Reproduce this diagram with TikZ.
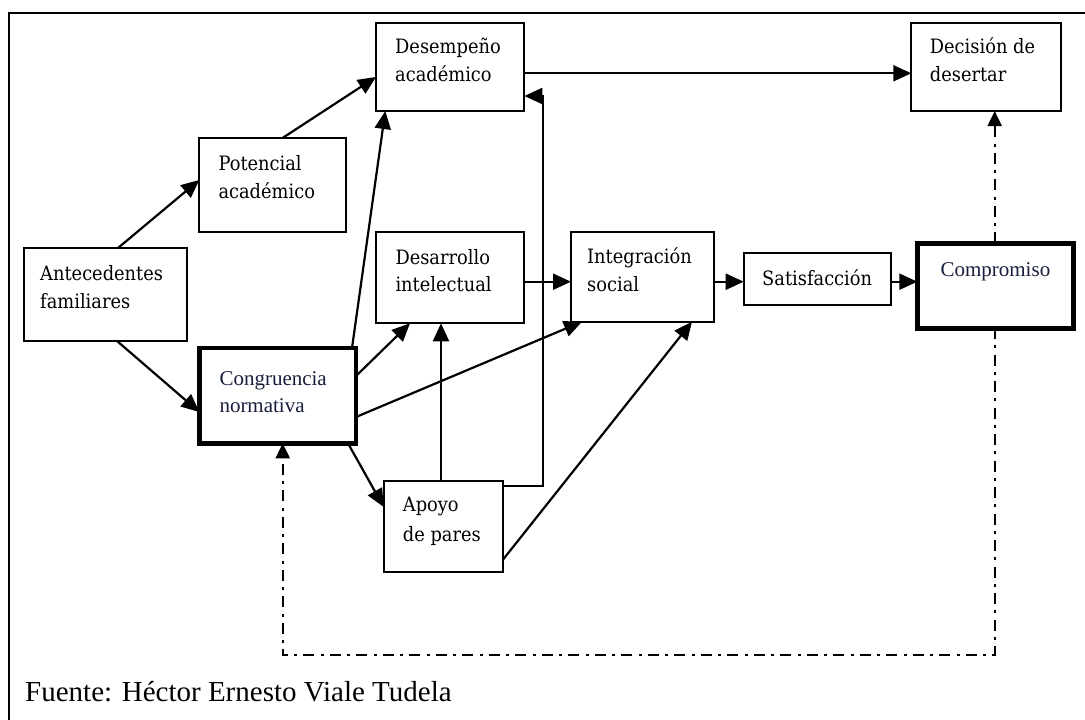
\documentclass[tikz,border=0pt]{standalone}
\usepackage{fontspec}
\setmainfont{Liberation Serif}
\newfontfamily\cambr{DejaVu Serif}[FakeStretch=0.9]
\usetikzlibrary{arrows.meta,calc}
\definecolor{navy}{RGB}{25,30,60}
\newcommand{\twol}[2]{\begin{tabular}[t]{@{}l@{}}#1\\#2\end{tabular}}
\begin{document}
\begin{tikzpicture}[x=1pt,y=-1pt,
 box/.style={draw, line width=2.2pt, rectangle, inner sep=0pt, outer sep=0pt, anchor=north west},
 thickbox/.style={box, line width=4.4pt},
 lbl/.style={font=\cambr\fontsize{19.8}{27.5}\selectfont, inner sep=0pt, anchor=base west},
 lblT/.style={font=\fontsize{21}{27.5}\selectfont, text=navy, inner sep=0pt},
 arr/.style={line width=2.2pt, -{Triangle[length=18pt,width=16pt]}},
 dd/.style={arr, -{Triangle[length=15pt,width=14pt]}, dash pattern=on 11pt off 6pt on 3pt off 6.5pt}
]
\useasboundingbox (0,0) rectangle (1085,720);
% frame
\draw[line width=2.4pt] (1090,12.7) -- (9,12.7) -- (9,725);

% boxes
\node[box, minimum width=163pt, minimum height=92.7pt] (ant) at (24.3,248) {};
\node[box, minimum width=146.7pt, minimum height=94.6pt] (pot) at (199.3,137.7) {};
\node[box, minimum width=148.3pt, minimum height=88.3pt] (des) at (376,22.7) {};
\node[box, minimum width=148.3pt, minimum height=91pt] (dsr) at (376,232.3) {};
\node[box, minimum width=142.7pt, minimum height=89.4pt] (int) at (571,232.3) {};
\node[box, minimum width=147pt, minimum height=51.7pt] (sat) at (743.7,253.3) {};
\node[thickbox, line width=4.8pt, minimum width=156.2pt, minimum height=85pt] (com) at (917.3,243.3) {};
\node[box, minimum width=149.4pt, minimum height=88.3pt] (dec) at (911.3,22.7) {};
\node[thickbox, minimum width=156.7pt, minimum height=95.3pt] (con) at (199.3,348) {};
\node[box, minimum width=119pt, minimum height=91pt] (apo) at (383.7,480.7) {};

% labels
\node[lbl] (ant-t) at ($(ant.north west)+(15.7,32.5)$) {\twol{Antecedentes}{familiares}};
\node[lbl] (pot-t) at ($(pot.north west)+(19,32.8)$) {\twol{Potencial}{académico}};
\node[lbl] (des-t) at ($(des.north west)+(19,31)$) {\twol{Desempeño}{académico}};
\node[lbl] (dsr-t) at ($(dsr.north west)+(19.3,31.8)$) {\twol{Desarrollo}{intelectual}};
\node[lbl] (int-t) at ($(int.north west)+(16,31.3)$) {\twol{Integración}{social}};
\node[lbl] (sat-t) at ($(sat.north west)+(18.3,32.5)$) {Satisfacción};
\node[lbl] (dec-t) at ($(dec.north west)+(18.4,31)$) {\twol{Decisión de}{desertar}};
\node[lbl, font=\cambr\fontsize{19.8}{29.5}\selectfont] (apo-t) at ($(apo.north west)+(19,31)$) {\twol{Apoyo}{de pares}};
\node[lblT, anchor=base west] (con-t) at ($(con.north west)+(20,37)$) {\twol{Congruencia}{normativa}};
\node[lblT, anchor=base] (com-t) at ($(com.north)+(0,33.4)$) {Compromiso};

% connectors
\draw[arr] ([xshift=93.7pt]ant.north west) -- ([yshift=-42.3pt]pot.north west);
\draw[arr] ([xshift=83.7pt]pot.north west) -- ([yshift=-54.3pt]des.north west);
\draw[arr, line width=1.9pt] ([yshift=-50.6pt]des.north east) -- ([yshift=-50.6pt]dec.north west);
\draw[arr] ([xshift=92.4pt]ant.south west) -- ([yshift=-64pt]con.north west);
\draw[arr] ([xshift=152.7pt]con.north west) -- ([xshift=9.3pt]des.south west);
\draw[arr] ([yshift=-28pt]con.north east) -- ([xshift=34pt]dsr.south west);
\draw[arr] ([yshift=-69pt]con.north east) -- ([xshift=11pt]int.south west);
\draw[arr] ([xshift=57.3pt]apo.north west) -- ([xshift=65pt]dsr.south west);
\draw[arr, line width=1.9pt] ([yshift=-5pt]apo.north east) -- ++(40.3,0) |- ([yshift=-73.3pt]des.north east);
\draw[arr] ([xshift=148.7pt]con.south west) -- ([yshift=-26.3pt]apo.north west);
\draw[arr] ([yshift=-79.3pt]apo.north east) -- ([xshift=121pt]int.south west);
\draw[arr] ([yshift=-49.4pt]dsr.north east) -- ([yshift=-49.4pt]int.north west);
\draw[arr] ([yshift=-49.4pt]int.north east) -- ([yshift=-28.4pt]sat.north west);
\draw[arr] ([yshift=-28.4pt]sat.north east) -- ([yshift=-38.4pt]com.north west);
\draw[dd] ([xshift=77.4pt]com.north west) -- ([xshift=83.4pt]dec.south west);
\coordinate (loop) at (282.7,655);
\draw[dd] ([xshift=77.4pt]com.south west) |- (loop) -- ([xshift=83.4pt]con.south west);

% source
\node[font=\fontsize{29}{31}\selectfont, inner sep=0pt, anchor=base west] (src) at (25,701.7) {Fuente: Héctor Ernesto Viale Tudela};
\end{tikzpicture}
\end{document}
